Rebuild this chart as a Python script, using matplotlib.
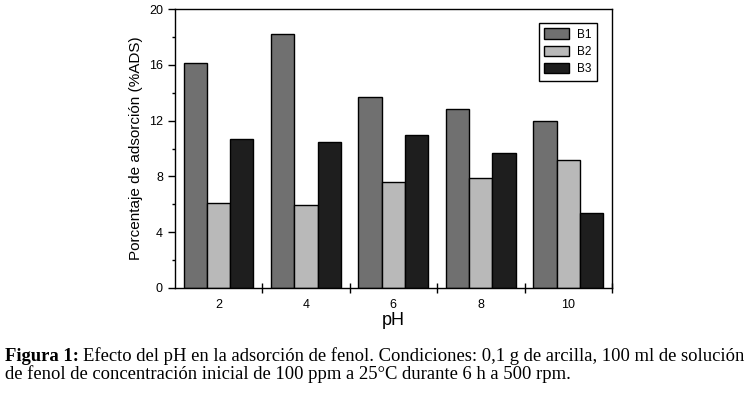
import numpy as np
import matplotlib
matplotlib.use("Agg")
import matplotlib.pyplot as plt
from matplotlib.ticker import MultipleLocator, FixedLocator

ph = [2, 4, 6, 8, 10]
b1 = [16.1, 18.25, 13.7, 12.85, 12.0]
b2 = [6.07, 5.95, 7.58, 7.86, 9.18]
b3 = [10.66, 10.47, 10.95, 9.65, 5.4]
series = ["B1", "B2", "B3"]
colors = ["#707070", "#b9b9b9", "#1e1e1e"]

plt.rcParams['font.family'] = ['Liberation Sans', 'DejaVu Sans']

fig = plt.figure(figsize=(7.5, 3.96), dpi=100)
ax = fig.add_axes([0.233, 0.273, 0.583, 0.704])

x = np.array(ph, dtype=float)
w = 0.533
for k, (vals, c, lab) in enumerate(zip([b1, b2, b3], colors, series)):
    ax.bar(x + (k - 1) * w, vals, width=w, color=c, edgecolor="black",
           linewidth=1.0, label=lab)

ax.set_xlim(1, 11)
ax.set_ylim(0, 20)
ax.set_xticks(ph)
ax.set_xticklabels([str(p) for p in ph])
ax.xaxis.set_minor_locator(FixedLocator([3, 5, 7, 9, 11]))
ax.tick_params(axis="x", which="major", length=0, pad=8, labelsize=9)
ax.tick_params(axis="x", which="minor", direction="inout", length=7, width=1)
ax.set_yticks([0, 4, 8, 12, 16, 20])
ax.yaxis.set_minor_locator(MultipleLocator(2))
ax.tick_params(axis="y", which="major", direction="out", length=5, width=1, labelsize=9)
ax.tick_params(axis="y", which="minor", direction="out", length=2.5, width=1)
for s in ax.spines.values():
    s.set_linewidth(1.0)

ax.set_ylabel("Porcentaje de adsorción (%ADS)", fontsize=11, labelpad=4)
ax.set_xlabel("pH", fontsize=13, labelpad=1)

leg = ax.legend(loc="upper right", bbox_to_anchor=(0.966, 0.95), fontsize=8.5,
                handlelength=2.1, handleheight=1.0, handletextpad=0.7,
                labelspacing=0.42, borderpad=0.45, fancybox=False,
                framealpha=1, borderaxespad=0)
leg.get_frame().set_edgecolor("black")
leg.get_frame().set_linewidth(1.0)

# caption with bold prefix
cap_size = 13.4
fig.canvas.draw()
renderer = fig.canvas.get_renderer()
t_bold = fig.text(0.007, 0.089, "Figura 1:", fontsize=cap_size, fontweight="bold",
                  family="Liberation Serif", va="baseline")
bb = t_bold.get_window_extent(renderer=renderer)
x_after = (bb.x1 + 3.5) / fig.bbox.width
fig.text(x_after, 0.089,
         "Efecto del pH en la adsorción de fenol. Condiciones: 0,1 g de arcilla, 100 ml de solución",
         fontsize=cap_size, family="Liberation Serif", va="baseline")
fig.text(0.007, 0.042,
         "de fenol de concentración inicial de 100 ppm a 25°C durante 6 h a 500 rpm.",
         fontsize=cap_size, family="Liberation Serif", va="baseline")

fig.savefig("out.png", dpi=100)
